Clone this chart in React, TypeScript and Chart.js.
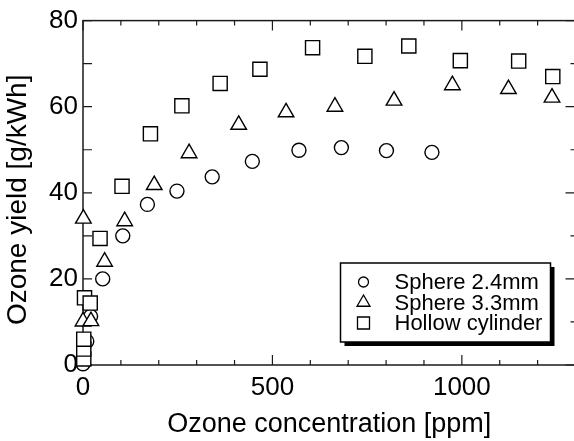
import React, { useEffect, useRef } from 'react';
import { Chart, registerables } from 'chart.js';

Chart.register(...registerables);

// ---- data ----
const seriesLabels = ['Sphere 2.4mm', 'Sphere 3.3mm', 'Hollow cylinder'];
const sphere24X = [0, 10, 20, 52, 105, 170, 248, 341, 447, 570, 682, 801, 921];
const sphere24Y = [0.3, 5.5, 11.3, 20, 30, 37.3, 40.4, 43.7, 47.3, 49.9, 50.5, 49.8, 49.4];
const sphere33X = [1, 0, 21, 57, 110, 188, 280, 411, 536, 665, 821, 975, 1123, 1238];
const sphere33Y = [34.0, 10.1, 10.2, 24, 33.4, 41.8, 49.2, 55.8, 58.7, 60.0, 61.4, 65.0, 64.1, 62.1];
const cylinderX = [2, 2, 2, 4, 19, 45, 103, 178, 261, 362, 467, 606, 744, 860, 996, 1150, 1240];
const cylinderY = [1.4, 3.7, 6.0, 15.6, 14.4, 29.4, 41.5, 53.7, 60.2, 65.4, 68.7, 73.7, 71.7, 74.1, 70.7, 70.6, 67.0];

const xTickLabels = [0, 500, 1000];
const xMinorTicks = [100, 200, 300, 400, 600, 700, 800, 900, 1100, 1200];
const yTickLabels = [0, 20, 40, 60, 80];
const yMinorTicks = [10, 30, 50, 70];

const xTitle = 'Ozone concentration [ppm]';
const yTitle = 'Ozone yield [g/kWh]';

const FONT = '"Liberation Sans", Arial, Helvetica, sans-serif';

const toPoints = (xs: number[], ys: number[]) => xs.map((x, i) => ({ x, y: ys[i] }));

const framePlugin = {
  id: 'frameTicks',
  beforeDatasetsDraw(chart: any) {
    const { ctx, chartArea: a, scales } = chart;
    const sx = scales.x;
    const sy = scales.y;
    ctx.save();
    ctx.strokeStyle = '#1a1a1a';
    ctx.lineWidth = 1.5;
    ctx.strokeRect(a.left, a.top, a.right - a.left, a.bottom - a.top);
    ctx.lineWidth = 1.2;
    ctx.beginPath();
    const seg = (x1: number, y1: number, x2: number, y2: number) => {
      ctx.moveTo(x1, y1);
      ctx.lineTo(x2, y2);
    };
    xTickLabels.forEach((v) => {
      const px = sx.getPixelForValue(v);
      seg(px, a.bottom, px, a.bottom - 10);
      seg(px, a.top, px, a.top + 10);
    });
    xMinorTicks.forEach((v) => {
      const px = sx.getPixelForValue(v);
      seg(px, a.bottom, px, a.bottom - 5);
      seg(px, a.top, px, a.top + 5);
    });
    yTickLabels.forEach((v) => {
      const py = sy.getPixelForValue(v);
      seg(a.left, py, a.left + 9, py);
      seg(a.right, py, a.right - 10, py);
    });
    yMinorTicks.forEach((v) => {
      const py = sy.getPixelForValue(v);
      seg(a.left, py, a.left + 9, py);
      seg(a.right, py, a.right - 5, py);
    });
    ctx.stroke();

    // y axis title
    ctx.fillStyle = '#000';
    ctx.font = `28px ${FONT}`;
    ctx.textAlign = 'center';
    ctx.textBaseline = 'middle';
    ctx.translate(18, (a.top + a.bottom) / 2 + 7);
    ctx.rotate(-Math.PI / 2);
    ctx.fillText(yTitle, 0, 0);
    ctx.restore();
  },
};

const legendPlugin = {
  id: 'boxLegend',
  afterDatasetsDraw(chart: any) {
    const { ctx, chartArea: a } = chart;
    const bx = a.right - 235;
    const by = a.bottom - 102;
    const bw = 210;
    const bh = 79;
    ctx.save();
    ctx.fillStyle = '#000';
    ctx.fillRect(bx + 4, by + 4, bw, bh);
    ctx.fillStyle = '#fff';
    ctx.fillRect(bx, by, bw, bh);
    ctx.strokeStyle = '#000';
    ctx.lineWidth = 1.5;
    ctx.strokeRect(bx, by, bw, bh);

    const rows = [19, 39.5, 60];
    const mx = bx + 23;
    const tx = bx + 54;
    ctx.font = `22px ${FONT}`;
    ctx.textBaseline = 'middle';
    ctx.textAlign = 'left';
    chart.data.datasets.forEach((ds: any, i: number) => {
      const cy = by + rows[i];
      ctx.lineWidth = 1.3;
      ctx.strokeStyle = '#000';
      ctx.fillStyle = '#fff';
      ctx.beginPath();
      if (ds.pointStyle === 'circle') {
        ctx.arc(mx, cy, 5, 0, Math.PI * 2);
      } else if (ds.pointStyle === 'triangle') {
        const r = 7.5;
        ctx.moveTo(mx, cy - r);
        ctx.lineTo(mx + r * Math.sin(Math.PI / 3), cy + r / 2);
        ctx.lineTo(mx - r * Math.sin(Math.PI / 3), cy + r / 2);
        ctx.closePath();
      } else {
        ctx.rect(mx - 6, cy - 6, 12, 12);
      }
      ctx.fill();
      ctx.stroke();
      ctx.fillStyle = '#000';
      ctx.fillText(ds.label, tx, cy + 1);
    });
    ctx.restore();
  },
};

export default function App() {
  const ref = useRef<HTMLCanvasElement | null>(null);

  useEffect(() => {
    document.documentElement.style.overflow = 'hidden';
    document.body.style.overflow = 'hidden';
    document.body.style.margin = '0';
    if (!ref.current) return;
    const common = {
      showLine: false,
      borderColor: '#000',
      backgroundColor: '#fff',
      borderWidth: 1.4,
      clip: false as any,
    };
    const chart = new Chart(ref.current, {
      type: 'scatter',
      data: {
        datasets: [
          { ...common, label: seriesLabels[0], data: toPoints(sphere24X, sphere24Y), pointStyle: 'circle', pointRadius: 7, order: 3 },
          { ...common, label: seriesLabels[1], data: toPoints(sphere33X, sphere33Y), pointStyle: 'triangle', pointRadius: 9, order: 1 },
          { ...common, label: seriesLabels[2], data: toPoints(cylinderX, cylinderY), pointStyle: 'rect', pointRadius: 10, order: 2 },
        ],
      },
      options: {
        animation: false,
        responsive: false,
        events: [],
        layout: { padding: { top: 16, right: 24.5, left: 0, bottom: 0 } },
        plugins: { legend: { display: false }, tooltip: { enabled: false } },
        scales: {
          x: {
            type: 'linear',
            min: 0,
            max: 1300,
            afterBuildTicks: (s: any) => {
              s.ticks = xTickLabels.map((v) => ({ value: v }));
            },
            afterFit: (s: any) => {
              s.height = 76;
            },
            grid: { display: false, drawTicks: false },
            border: { display: false },
            ticks: {
              color: '#000',
              padding: 7,
              maxRotation: 0,
              font: { family: FONT, size: 26 },
              callback: (v: any) => String(v),
            },
            title: {
              display: true,
              text: xTitle,
              color: '#000',
              padding: { top: 0, bottom: 2.5 },
              font: { family: FONT, size: 27, lineHeight: 1 },
            },
          },
          y: {
            type: 'linear',
            min: 0,
            max: 80,
            afterBuildTicks: (s: any) => {
              s.ticks = yTickLabels.map((v) => ({ value: v }));
            },
            afterFit: (s: any) => {
              s.width = 83;
            },
            grid: { display: false, drawTicks: false },
            border: { display: false },
            ticks: { color: '#000', padding: 5, font: { family: FONT, size: 26 }, callback: (v: any) => String(v) },
          },
        },
      },
      plugins: [framePlugin, legendPlugin],
    } as any);
    return () => chart.destroy();
  }, []);

  return (
    <div style={{ position: 'absolute', left: 0, top: 0, width: 600, height: 441 }}>
      <canvas ref={ref} width={600} height={441} style={{ width: 600, height: 441, display: 'block' }} />
    </div>
  );
}
